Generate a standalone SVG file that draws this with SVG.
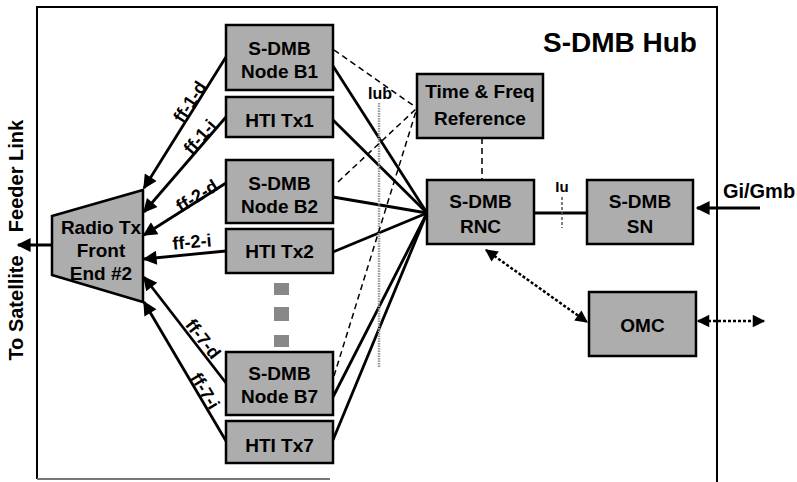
<svg xmlns="http://www.w3.org/2000/svg" width="797" height="482" viewBox="0 0 797 482">
<style>
text{font-family:"Liberation Sans",Arial,sans-serif;font-weight:bold;fill:#000}
.n{font-size:19px;text-anchor:middle}
.box{fill:#adadad;stroke:#000;stroke-width:2.5}
.lbl{font-size:18px;text-anchor:middle}
.sol{stroke:#000;stroke-width:2.8;fill:none}
.arr{stroke:#000;stroke-width:2.8;fill:none;marker-end:url(#ah)}
.dsh{stroke:#000;stroke-width:1.5;fill:none;stroke-dasharray:6 4}
.dot{stroke:#000;stroke-width:2.5;fill:none;stroke-dasharray:3 2;marker-start:url(#ahs);marker-end:url(#ah)}
</style>
<defs>
<marker id="ah" viewBox="0 0 10 10" refX="9" refY="5" markerWidth="6" markerHeight="5" orient="auto" markerUnits="strokeWidth"><path d="M0,0 L10,5 L0,10 Z" fill="#000"/></marker>
<marker id="ahs" viewBox="0 0 10 10" refX="1" refY="5" markerWidth="6" markerHeight="5" orient="auto" markerUnits="strokeWidth"><path d="M10,0 L0,5 L10,10 Z" fill="#000"/></marker>
</defs>
<rect width="797" height="482" fill="#fff"/>
<g id="hub">
<path d="M37,479 L37,7 L717,7 L717,482" fill="none" stroke="#000" stroke-width="2"/>
<line x1="37" y1="479" x2="330" y2="479" stroke="#777" stroke-width="2"/>
<text x="620" y="52" style="font-size:28px" text-anchor="middle">S-DMB Hub</text>
</g>
<g id="connectors">
<line class="sol" x1="333" y1="66" x2="427" y2="213"/>
<line class="sol" x1="333" y1="120" x2="427" y2="213"/>
<line class="sol" x1="333" y1="197" x2="427" y2="213"/>
<line class="sol" x1="333" y1="252" x2="427" y2="213"/>
<line class="sol" x1="333" y1="397" x2="427" y2="213"/>
<line class="sol" x1="333" y1="440" x2="427" y2="213"/>
<line x1="379" y1="103" x2="379" y2="368" stroke="#999" stroke-width="2.5" stroke-dasharray="1.5 1"/>
<line class="dsh" x1="334" y1="50" x2="417" y2="108"/>
<line class="dsh" x1="338" y1="182" x2="417" y2="108"/>
<line class="dsh" x1="334" y1="376" x2="417" y2="108"/>
<line class="dsh" stroke-width="2" x1="482" y1="138" x2="482" y2="180"/>
<line class="sol" x1="534" y1="213" x2="587" y2="213"/>
<line x1="562" y1="197" x2="562" y2="228" stroke="#555" stroke-width="1.5" stroke-dasharray="3 2"/>
<line class="arr" x1="226" y1="57" x2="144" y2="188"/>
<line class="arr" x1="226" y1="117" x2="144" y2="212"/>
<line class="arr" x1="226" y1="183" x2="144" y2="235"/>
<line class="arr" x1="226" y1="251" x2="144" y2="259"/>
<line class="arr" x1="226" y1="383" x2="144" y2="277"/>
<line class="arr" x1="226" y1="441" x2="144" y2="302"/>
<line class="arr" x1="52" y1="245" x2="18" y2="245"/>
<line class="arr" x1="760" y1="208" x2="697" y2="208"/>
<line class="dot" x1="486" y1="250" x2="587" y2="322"/>
<line class="dot" x1="698" y1="321" x2="764" y2="321"/>
<text class="lbl" transform="translate(190,102) rotate(-57)" dy="6">ff-1-d</text>
<text class="lbl" transform="translate(200,137) rotate(-49)" dy="6">ff-1-i</text>
<text class="lbl" transform="translate(197,196) rotate(-32)" dy="6">ff-2-d</text>
<text class="lbl" transform="translate(192,242) rotate(-5)" dy="6">ff-2-i</text>
<text class="lbl" transform="translate(203,339) rotate(52)" dy="6">ff-7-d</text>
<text class="lbl" transform="translate(205,391) rotate(59)" dy="6">ff-7-i</text>
<text x="380" y="99" style="font-size:16px" text-anchor="middle">Iub</text>
<text x="562" y="192" style="font-size:15px" text-anchor="middle">Iu</text>
<text x="759" y="198" style="font-size:20px" text-anchor="middle">Gi/Gmb</text>
</g>
<g id="feeder">
<text transform="translate(23,176) rotate(-90)" style="font-size:20px" text-anchor="middle">Feeder Link</text>
<text transform="translate(23,308) rotate(-90)" style="font-size:20px" text-anchor="middle">To Satellite</text>
</g>
<g id="radio">
<polygon class="box" points="52,216 143,190 143,302 52,275"/>
<text class="n" x="101" y="234">Radio Tx</text>
<text class="n" x="101" y="257">Front</text>
<text class="n" x="101" y="280">End #2</text>
</g>
<g id="nodeb1"><rect class="box" x="226" y="25" width="107" height="65"/><text class="n" x="279.5" y="55">S-DMB</text><text class="n" x="279.5" y="78">Node B1</text></g>
<g id="hti1"><rect class="box" x="226" y="97" width="107" height="40"/><text class="n" x="279.5" y="127">HTI Tx1</text></g>
<g id="nodeb2"><rect class="box" x="226" y="160" width="107" height="63"/><text class="n" x="279.5" y="190">S-DMB</text><text class="n" x="279.5" y="213">Node B2</text></g>
<g id="hti2"><rect class="box" x="226" y="229" width="107" height="44"/><text class="n" x="279.5" y="258">HTI Tx2</text></g>
<g id="dots" fill="#888"><rect x="274" y="283" width="15" height="12"/><rect x="274" y="307" width="15" height="14"/><rect x="274" y="335" width="15" height="12"/></g>
<g id="nodeb7"><rect class="box" x="226" y="352" width="107" height="63"/><text class="n" x="279.5" y="380">S-DMB</text><text class="n" x="279.5" y="403">Node B7</text></g>
<g id="hti7"><rect class="box" x="226" y="421" width="107" height="42"/><text class="n" x="279.5" y="452">HTI Tx7</text></g>
<g id="tfref"><rect class="box" x="417" y="74" width="126" height="64"/><text class="n" x="480" y="98">Time &amp; Freq</text><text class="n" x="480" y="125">Reference</text></g>
<g id="rnc"><rect class="box" x="427" y="180" width="107" height="64"/><text class="n" x="480.5" y="208">S-DMB</text><text class="n" x="480.5" y="233">RNC</text></g>
<g id="sn"><rect class="box" x="587" y="180" width="106" height="64"/><text class="n" x="640" y="208">S-DMB</text><text class="n" x="640" y="233">SN</text></g>
<g id="omc"><rect class="box" x="589" y="292" width="107" height="64"/><text class="n" x="642.5" y="332">OMC</text></g>
</svg>
